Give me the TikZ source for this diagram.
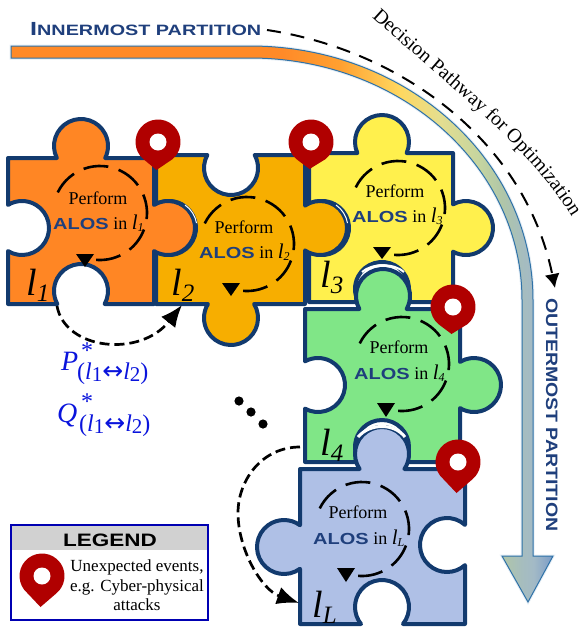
\documentclass[tikz,border=0pt]{standalone}
\usepackage{fontspec}
\setmainfont{Liberation Serif}
\newfontfamily\widesans[FakeStretch=1.25]{Liberation Sans}
\newfontfamily\widerSans[FakeStretch=1.32]{Liberation Sans}
\newfontfamily\tallsans[FakeStretch=1.18]{Liberation Sans}
\newfontfamily\arrowfont{DejaVu Sans}
\usetikzlibrary{arrows.meta,decorations.text}
\definecolor{edgeblue}{HTML}{123A6E}
\definecolor{bandline}{HTML}{2F72A8}
\definecolor{textblue}{HTML}{1F3F7C}
\definecolor{pinred}{HTML}{B00000}
\definecolor{mathblue}{HTML}{0A14DC}
\definecolor{c1}{HTML}{FF8624}
\definecolor{c2}{HTML}{F7AE00}
\definecolor{c3}{HTML}{FFF04D}
\definecolor{c4}{HTML}{80E687}
\definecolor{c5}{HTML}{AFC0E6}
\definecolor{g0}{HTML}{FF8A28}
\definecolor{g1}{HTML}{FFA030}
\definecolor{g2}{HTML}{FFD860}
\definecolor{g3}{HTML}{E4DE90}
\definecolor{g4}{HTML}{C4D4A0}
\definecolor{g5}{HTML}{B0C6A8}
\definecolor{g6}{HTML}{A6BDBE}
\definecolor{g7}{HTML}{A3BAC6}
\definecolor{g8}{HTML}{7B9CC8}
\pgfdeclarehorizontalshading{bandgrad}{100bp}{
  color(0bp)=(g0);
  color(50bp)=(g0);
  color(55.3bp)=(g1);
  color(60.9bp)=(g2);
  color(64.6bp)=(g3);
  color(68.3bp)=(g4);
  color(70.3bp)=(g5);
  color(72.1bp)=(g6);
  color(73.2bp)=(g7);
  color(75bp)=(g8);
  color(100bp)=(g8)}
\newcommand{\KT}[3]{-- ({#1-sqrt(729-#3*#3)},#2) arc[start angle={180-asin(#3/27)},end angle={360+asin(#3/27)},radius=27]}
\newcommand{\KB}[3]{-- ({#1+sqrt(729-#3*#3)},#2) arc[start angle={-asin(#3/27)},end angle={180+asin(#3/27)},radius=27]}
\newcommand{\KR}[3]{-- (#2,{#1-sqrt(729-#3*#3)}) arc[start angle={180+acos(#3/27)},end angle={540-acos(#3/27)},radius=27]}
\newcommand{\KL}[3]{-- (#2,{#1+sqrt(729-#3*#3)}) arc[start angle={acos(#3/27)},end angle={360-acos(#3/27)},radius=27]}
\newcommand{\ST}[3]{-- ({#1-sqrt(729-#3*#3)},#2) arc[start angle={180+asin(#3/27)},end angle={-asin(#3/27)},radius=27]}
\newcommand{\SB}[3]{-- ({#1+sqrt(729-#3*#3)},#2) arc[start angle={asin(#3/27)},end angle={-180-asin(#3/27)},radius=27]}
\newcommand{\SR}[3]{-- (#2,{#1-sqrt(729-#3*#3)}) arc[start angle={-acos(#3/27)},end angle={acos(#3/27)-360},radius=27]}
\newcommand{\SL}[3]{-- (#2,{#1+sqrt(729-#3*#3)}) arc[start angle={180-acos(#3/27)},end angle={-180+acos(#3/27)},radius=27]}
\newcommand{\pinmark}[3]{%
  \fill[pinred] (#1,#2) ++(131:22.5) arc[start angle=131,end angle=409,radius=22.5] -- (#1-1.5,#2+#3) -- cycle;
  \fill[white] (#1,#2) circle[radius=8.5];}
\newcommand{\loopy}[5]{%
  \draw[loopline] (#1,#2) ++(206:47) arc[start angle=206,end angle=457,radius=47];
  \fill[black] (#3-9,#4) -- (#3+9,#4) -- (#3,#5) -- cycle;}
\newcommand{\insidetext}[6]{%
  \node[bodytext,anchor=base] (#1a) at (#2,#3) {Perform};
  \node[bodytext,anchor=base west,inner sep=0pt] (#1b) at (#4,#5) {{\widesans\bfseries\fontsize{16}{18}\selectfont\color{textblue}ALOS} in \fontsize{21}{21}\selectfont\textit{l}\raisebox{-2.5pt}{\fontsize{12}{12}\selectfont\itshape #6}};}
\newcommand{\biglabel}[4]{\node[anchor=base west,inner sep=0pt] (#1) at (#2,#3) {\fontsize{38}{38}\selectfont\itshape l\raisebox{-6pt}{\fontsize{25}{25}\selectfont #4}};}
\newcommand{\pairsub}{\fontsize{24}{24}\selectfont (\textit{l}\raisebox{-2pt}{\fontsize{21}{21}\selectfont 1}{\arrowfont\fontsize{25}{25}\selectfont↔}\textit{l}\raisebox{-2pt}{\fontsize{21}{21}\selectfont 2})}
\tikzset{
  piece/.style={draw=edgeblue,line width=4pt,line join=round},
  loopline/.style={draw=black,line width=2.6pt,dash pattern=on 25pt off 10.8pt},
  pathconn/.style={draw=black,line width=2pt,dash pattern=on 14pt off 10pt,-{Latex[length=14pt,width=15pt]}},
  flowconn/.style={draw=black,line width=2.7pt,dash pattern=on 10pt off 5pt,-{Latex[length=22pt,width=18pt]}},
  bodytext/.style={font=\fontsize{18}{20}\selectfont,inner sep=0pt},
  crescent/.style={draw=white,line width=1pt},
  mathlabel/.style={inner sep=0pt,text=mathblue}
}
\begin{document}
\begin{tikzpicture}[x=1pt,y=-1pt]
\useasboundingbox (0,0) rectangle (585,627);
% decision band
\draw[line width=3pt,draw=bandline!12] (11,46) -- (250,46) arc[x radius=283,y radius=254,start angle=270,end angle=360] -- (533,556) -- (553,556) -- (528,602) -- (502,556) -- (522,556) -- (522,300) arc[x radius=272,y radius=242,start angle=360,end angle=270] -- (11,58) -- cycle;
\path[shading=bandgrad,draw=bandline,line width=1pt] (11,46) -- (250,46) arc[x radius=283,y radius=254,start angle=270,end angle=360] -- (533,556) -- (553,556) -- (528,602) -- (502,556) -- (522,556) -- (522,300) arc[x radius=272,y radius=242,start angle=360,end angle=270] -- (11,58) -- cycle;
\node[anchor=base west,inner sep=0pt,text=textblue] (inner) at (30,35) {\widerSans\bfseries\fontsize{19}{19}\selectfont I\fontsize{15}{15}\selectfont NNERMOST PARTITION};
\node[anchor=base west,inner sep=0pt,text=textblue,rotate=-90] (outer) at (546,298) {\tallsans\bfseries\fontsize{16.5}{18}\selectfont OUTERMOST PARTITION};
\coordinate (pathstart) at (267,30);
\coordinate (pathend) at (555,288);
\draw[pathconn] (pathstart) .. controls (400,50) and (525,140) .. (pathend);
\path[decorate,decoration={text along path,text={|\fontsize{20}{20}\selectfont|Decision Pathway for Optimization}}] (372,17) .. controls (450,88) and (530,146) .. (576,224);
% pieces
\draw[piece,fill=c3] (309,153) \KT{382}{153}{11} -- (453,153) \KR{228}{453}{13} -- (453,302) \SB{382}{302}{13} -- (309,302) \SL{228}{309}{13} -- cycle;
\draw[piece,fill=c4] (305,309) \KT{383}{309}{13} -- (460,309) \KR{385}{460}{14} -- (460,462) \SB{382}{462}{15} -- (305,462) \SL{385}{305}{13} -- cycle;
\draw[piece,fill=c5] (300,469) \KT{382}{469}{15} -- (465,469) \SR{545}{465}{18} -- (465,624) \SB{382}{624}{17} -- (300,624) \KL{547}{300}{16} -- cycle;
\draw[piece,fill=c2] (156,155) \ST{231}{155}{13} -- (305,155) \KR{228}{305}{15} -- (305,304) \KB{231}{304}{14} -- (156,304) \SL{228}{156}{13} -- cycle;
\draw[piece,fill=c1] (8,158) \KT{81}{158}{12} -- (154,158) \KR{228}{154}{14} -- (154,304) \SB{81}{304}{13} -- (8,304) \SL{228}{8}{14} -- cycle;
% highlights
\draw[crescent] (185,205) arc[start angle=-55,end angle=-10,radius=28];
\draw[crescent] (336,205) arc[start angle=-55,end angle=-10,radius=28];
\draw[white,line width=2pt] (362,272) .. controls (372,263) and (394,263) .. (404,272);
\draw[white,line width=3pt] (358,437) .. controls (370,423) and (394,423) .. (405,437);
% inner loops and text
\loopy{100}{213}{85}{254}{267}
\loopy{247}{244}{231}{283}{296}
\loopy{398}{208}{382}{247}{259}
\loopy{402}{364}{386}{403}{417}
\loopy{362}{529}{346}{568}{582}
\insidetext{tA}{98}{204}{53}{229}{1}
\insidetext{tB}{244}{233}{199}{258}{2}
\insidetext{tC}{395}{197}{352}{222}{3}
\insidetext{tD}{399}{353}{354}{379}{4}
\insidetext{tE}{358}{518}{313}{544}{L}
\biglabel{lA}{26}{295}{1}
\biglabel{lB}{171}{295}{2}
\biglabel{lC}{320}{287}{3}
\biglabel{lD}{320}{455}{4}
\biglabel{lE}{312}{617}{L}
% pins
\pinmark{158}{142}{28}
\pinmark{311}{142}{27}
\pinmark{453}{307}{27}
\pinmark{458}{462}{31}
% flows
\coordinate (oneout) at (57,306);
\coordinate (twoin) at (182,305);
\draw[flowconn] (oneout) .. controls (65,350) and (140,358) .. (twoin);
\coordinate (fourout) at (300,447);
\coordinate (turn) at (238,513);
\coordinate (lastin) at (299,603);
\draw[flowconn] (fourout) .. controls (262,447) and (238,480) .. (turn) .. controls (238,550) and (262,590) .. (lastin);
% math labels
\node[mathlabel,anchor=base west] (pP) at (61,370) {\fontsize{28}{28}\selectfont\itshape P};
\node[mathlabel,anchor=center] (pS) at (87,351) {\fontsize{24}{24}\selectfont *};
\node[mathlabel,anchor=base west] (pI) at (77,379) {\pairsub};
\node[mathlabel,anchor=base west] (qP) at (57,422) {\fontsize{28}{28}\selectfont\itshape Q};
\node[mathlabel,anchor=center] (qS) at (87,402) {\fontsize{24}{24}\selectfont *};
\node[mathlabel,anchor=base west] (qI) at (79,431) {\pairsub};
\fill (239,401) circle[radius=4.6];
\fill (251,412) circle[radius=4.6];
\fill (263,424) circle[radius=4.6];
% legend
\fill[black!18] (11,525) rectangle (208,550);
\draw[draw=blue!70!black,line width=1.3pt] (11,525) rectangle (208,620);
\node[anchor=base,inner sep=0pt] (legendtitle) at (110,546) {\widesans\bfseries\fontsize{18}{18}\selectfont LEGEND};
\pinmark{42}{576}{31}
\node[anchor=base,inner sep=0pt] (legend1) at (137,571) {\fontsize{17}{17}\selectfont Unexpected events,};
\node[anchor=base,inner sep=0pt] (legend2) at (137,591) {\fontsize{17}{17}\selectfont e.g. Cyber-physical};
\node[anchor=base,inner sep=0pt] (legend3) at (137,610) {\fontsize{17}{17}\selectfont attacks};
\end{tikzpicture}
\end{document}
